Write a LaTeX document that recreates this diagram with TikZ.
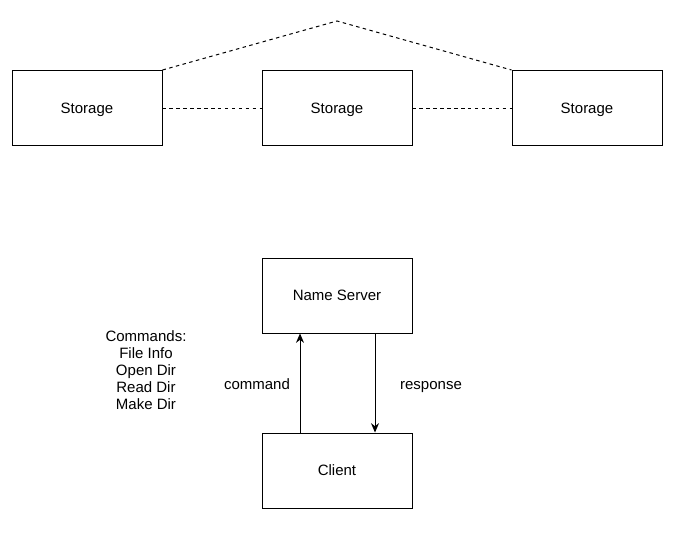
\documentclass[tikz,border=0pt]{standalone}
\usepackage{fontspec}
\setmainfont{Liberation Sans}
\usetikzlibrary{arrows.meta}
\tikzset{
  box/.style={draw, line width=0.75pt, minimum width=112.5pt, minimum height=56.25pt, inner sep=0pt, text height=8pt, text depth=0pt, font=\fontsize{11.25}{13}\selectfont},
  link/.style={line width=0.75pt, dash pattern=on 2.6pt off 2.6pt},
  msg/.style={line width=0.75pt, -{Stealth[length=7pt,width=6pt]}},
  lbl/.style={font=\fontsize{11.25}{12.75}\selectfont, align=center, inner sep=0pt}
}
\begin{document}
\begin{tikzpicture}[x=0.75pt,y=-0.75pt]
    \useasboundingbox (0,0) rectangle (682,540);
    
    \node[box] (st1) at (87,108) {Storage};
    \node[box] (st2) at (337,108) {Storage};
    \node[box] (st3) at (587,108) {Storage};
    \coordinate (apex) at (337,21);
    
    \draw[link] (st1) -- (st2);
    \draw[link] (st2) -- (st3);
    \draw[link] (st1.north east) -- (apex) -- (st3.north west);
    
    \node[box] (ns) at (337,295.5) {Name Server};
    \node[box] (client) at (337,470.5) {Client};
    
    \draw[msg] ([xshift=-27.75pt]client.north) -- ([xshift=-27.75pt]ns.south);
    \draw[msg] ([xshift=28.5pt]ns.south) -- ([xshift=28.5pt]client.north);
    
    \node[lbl, anchor=base] (cmd) at (257,389) {command};
    \node[lbl, anchor=base] (resp) at (431,389) {response};
    \node[lbl] (cmdlist) at (146,370) {Commands:\\File Info\\Open Dir\\Read Dir\\Make Dir};
\end{tikzpicture}
\end{document}
